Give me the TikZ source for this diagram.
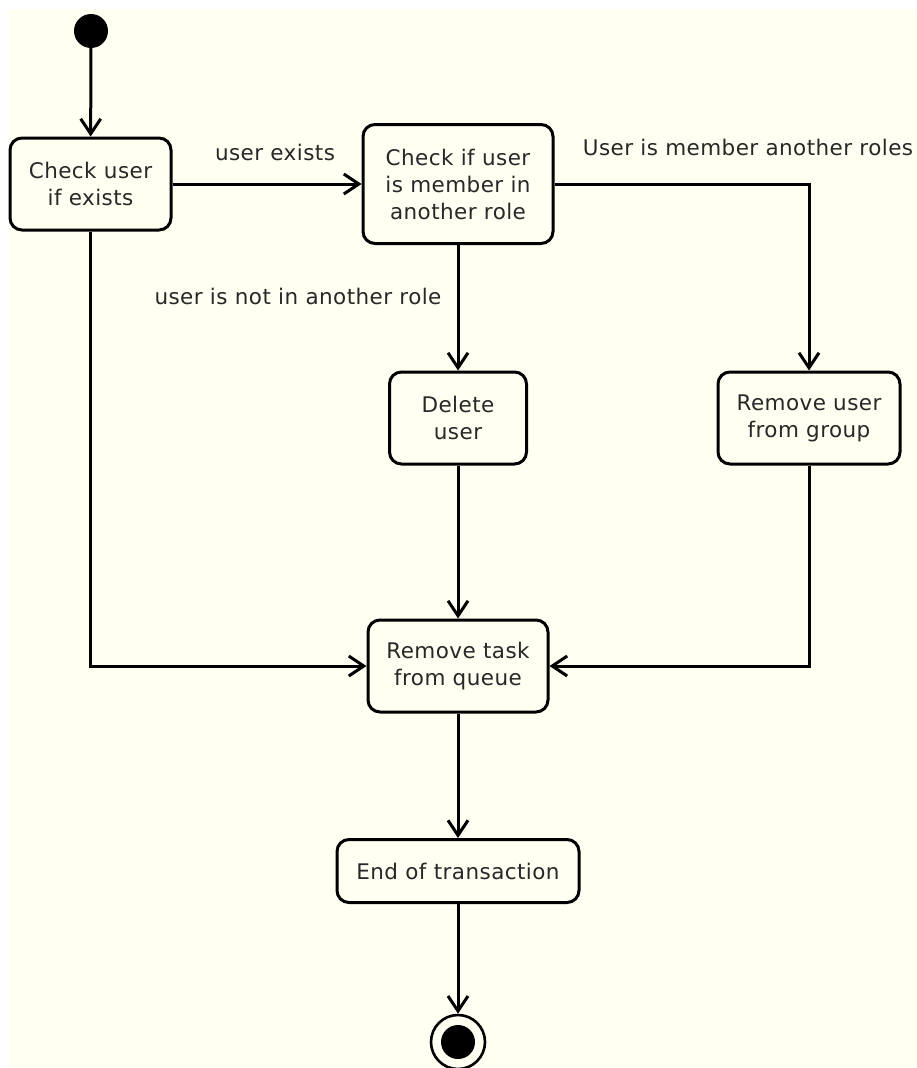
\documentclass[tikz,border=0pt]{standalone}
\usepackage{fontspec}
\setmainfont{DejaVu Sans}[LetterSpace=2]
\usetikzlibrary{arrows.meta}
\definecolor{cream}{RGB}{255,255,242}
\definecolor{txt}{RGB}{40,40,40}
\begin{document}
\begin{tikzpicture}[x=1pt,y=-1pt,
  act/.style={draw=black, line width=3pt, rounded corners=12pt, fill=cream,
    align=center, inner sep=0pt, text=txt, font=\fontsize{21.5}{27}\selectfont},
  lbl/.style={inner sep=0pt, text=txt, font=\fontsize{21.5}{27}\selectfont},
  conn/.style={line width=3pt, -{Straight Barb[length=15pt,width=20pt,line width=3pt]}}
]
\useasboundingbox (0,0) rectangle (917,1068);
\fill[white] (0,0) rectangle (917,1068);
\fill[cream] (9,9) rectangle (917,1068);

\node[circle, fill=black, minimum size=34pt, inner sep=0pt] (start) at (91,31) {};
\node[act, minimum width=161pt, minimum height=92pt] (b1) at (90.5,184) {Check user\\if exists};
\node[act, minimum width=190pt, minimum height=119pt] (b2) at (458,184) {Check if user\\is member in\\another role};
\node[act, minimum width=137pt, minimum height=92pt] (del) at (458,418) {Delete\\user};
\node[act, minimum width=182pt, minimum height=92pt] (ru) at (809,418) {Remove user\\from group};
\node[act, minimum width=180pt, minimum height=92pt] (rt) at (458,666) {Remove task\\from queue};
\node[act, minimum width=242pt, minimum height=63pt] (end) at (458,871) {End of transaction};
\node[circle, draw=black, line width=2.6pt, minimum size=54pt, inner sep=0pt] (final) at (458,1042) {};
\node[circle, fill=black, minimum size=34pt, inner sep=0pt] (finalin) at (458,1042) {};

\node[lbl] (l1) at (275,152) {user exists};
\node[lbl] (l2) at (748,147) {User is member another roles};
\node[lbl] (l3) at (298,296) {user is not in another role};

\draw[conn] (start) -- (b1);
\draw[conn] (b1.east) -- (b2.west);
\draw[conn] (b2.south) -- (del.north);
\draw[conn] (b2.east) -| (ru.north);
\draw[conn] (del.south) -- (rt.north);
\draw[conn] (ru.south) |- (rt.east);
\draw[conn] (b1.south) |- (rt.west);
\draw[conn] (rt.south) -- (end.north);
\draw[conn] (end.south) -- (final.north);
\end{tikzpicture}
\end{document}
